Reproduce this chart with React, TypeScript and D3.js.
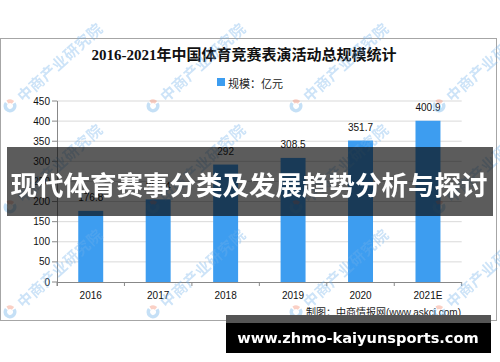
import React from 'react';
import * as d3 from 'd3';

const years = ['2016', '2017', '2018', '2019', '2020', '2021E'];
const values = [176.8, 205.4, 292, 308.5, 351.7, 400.9];
const valueLabels = ['176.8', '205.4', '292', '308.5', '351.7', '400.9'];
const yTicks = [0, 50, 100, 150, 200, 250, 300, 350, 400, 450];
const title = '2016-2021年中国体育竞赛表演活动总规模统计';
const legendLabel = '规模：亿元';
const sourceText = '制图：中商情报网(www.askci.com)';
const bannerText = '现代体育赛事分类及发展趋势分析与探讨';
const footerText = 'www.zhmo-kaiyunsports.com';
const watermarkText = '中商产业研究院';
const wmCols = [10, 153, 296, 439];
const wmRows = [106, 207, 312];

const BAR = '#3d9df0';

export default function App() {
  const x = d3.scaleBand<string>().domain(years).range([57, 461.7]).paddingInner(0.63).paddingOuter(0.315);
  const y = d3.scaleLinear().domain([0, 450]).range([282, 101]);
  const step = x.step();
  const x0 = 57;
  const x1 = 461.7;
  const sans = "'Liberation Sans', 'Noto Sans CJK SC', sans-serif";
  const cjk = "'Noto Sans CJK SC', sans-serif";

  const arcBlue = d3.arc()({ innerRadius: 3, outerRadius: 6.5, startAngle: Math.PI * 0.55, endAngle: Math.PI * 1.95 } as any) as string;
  const arcRed = d3.arc()({ innerRadius: 3, outerRadius: 6.5, startAngle: Math.PI * 0.05, endAngle: Math.PI * 0.45 } as any) as string;

  return (
    <svg width={500} height={362} style={{ position: 'absolute', left: 0, top: 0, background: '#fff' }}>
      <rect x={0} y={0} width={500} height={362} fill="#fff" />
      {/* frame */}
      <rect x={0.5} y={38.5} width={496} height={282} fill="#fff" stroke="#a6a6a6" strokeWidth={1} />

      {/* title */}
      <text x={244} y={55} textAnchor="middle" dominantBaseline="central" fontFamily="'Liberation Serif', 'Noto Sans CJK SC', serif" fontWeight="bold" fontSize={15} fill="#111">
        {title}
      </text>

      {/* legend */}
      <rect x={217} y={78} width={8} height={8} fill={BAR} />
      <text x={228} y={82.5} dominantBaseline="central" fontFamily={cjk} fontSize={11} fill="#222">{legendLabel}</text>

      {/* grid */}
      {yTicks.map((t) => (
        <g key={t}>
          {t > 0 && <line x1={x0} x2={x1} y1={y(t)} y2={y(t)} stroke="#d9d9d9" strokeWidth={1} />}
          <line x1={52} x2={x0} y1={y(t)} y2={y(t)} stroke="#888" strokeWidth={1} />
          <text x={50} y={y(t)} textAnchor="end" dominantBaseline="central" fontFamily={sans} fontSize={10} fill="#111">{t}</text>
        </g>
      ))}

      {/* bars */}
      {years.map((yr, i) => (
        <g key={yr}>
          <rect x={x(yr)} y={y(values[i])} width={x.bandwidth()} height={y(0) - y(values[i])} fill={BAR} />
          <text x={(x(yr) as number) + x.bandwidth() / 2} y={y(values[i]) - 13} textAnchor="middle" dominantBaseline="central" fontFamily={sans} fontSize={10} fill="#111">{valueLabels[i]}</text>
          <text x={(x(yr) as number) + x.bandwidth() / 2} y={295} textAnchor="middle" dominantBaseline="central" fontFamily={sans} fontSize={10} fill="#111">{yr}</text>
        </g>
      ))}

      {/* axes */}
      <line x1={x0 + 0.5} x2={x0 + 0.5} y1={y(450)} y2={y(0) + 4} stroke="#888" strokeWidth={1} />
      <line x1={x0} x2={x1} y1={y(0) + 0.5} y2={y(0) + 0.5} stroke="#888" strokeWidth={1} />
      {d3.range(years.length + 1).map((k) => (
        <line key={k} x1={x0 + k * step} x2={x0 + k * step} y1={y(0)} y2={y(0) + 4} stroke="#888" strokeWidth={1} />
      ))}

      {/* source */}
      <text x={461} y={312} textAnchor="end" dominantBaseline="central" fontFamily={sans} fontSize={10} fill="#222">{sourceText}</text>

      {/* watermarks */}
      <g opacity={0.35}>
        {wmRows.map((ry) =>
          wmCols.map((cx) => (
            <g key={`${cx}-${ry}`} transform={`translate(${cx},${ry}) rotate(-42)`}>
              <path d={arcBlue} fill="#5aa6e6" />
              <path d={arcRed} fill="#f07a5a" />
              <text x={12} y={0} dominantBaseline="central" fontFamily={cjk} fontWeight="bold" fontSize={15} letterSpacing={0.5} fill="#6fb0ea">{watermarkText}</text>
            </g>
          ))
        )}
      </g>

      {/* overlay banner */}
      <rect x={7} y={147} width={486} height={69} fill="rgba(8,8,8,0.66)" />
      <text x={249} y={183} textAnchor="middle" dominantBaseline="central" fontFamily={cjk} fontWeight="bold" fontSize={26.5} fill="#fff">{bannerText}</text>

      {/* footer banner */}
      <rect x={226} y={315} width={265} height={8} fill="#555" />
      <rect x={226} y={323} width={265} height={30} fill="#000" />
      <text x={358} y={337} textAnchor="middle" dominantBaseline="central" fontFamily="'DejaVu Sans', sans-serif" fontWeight="bold" fontSize={14.6} fill="#fff">{footerText}</text>
    </svg>
  );
}
